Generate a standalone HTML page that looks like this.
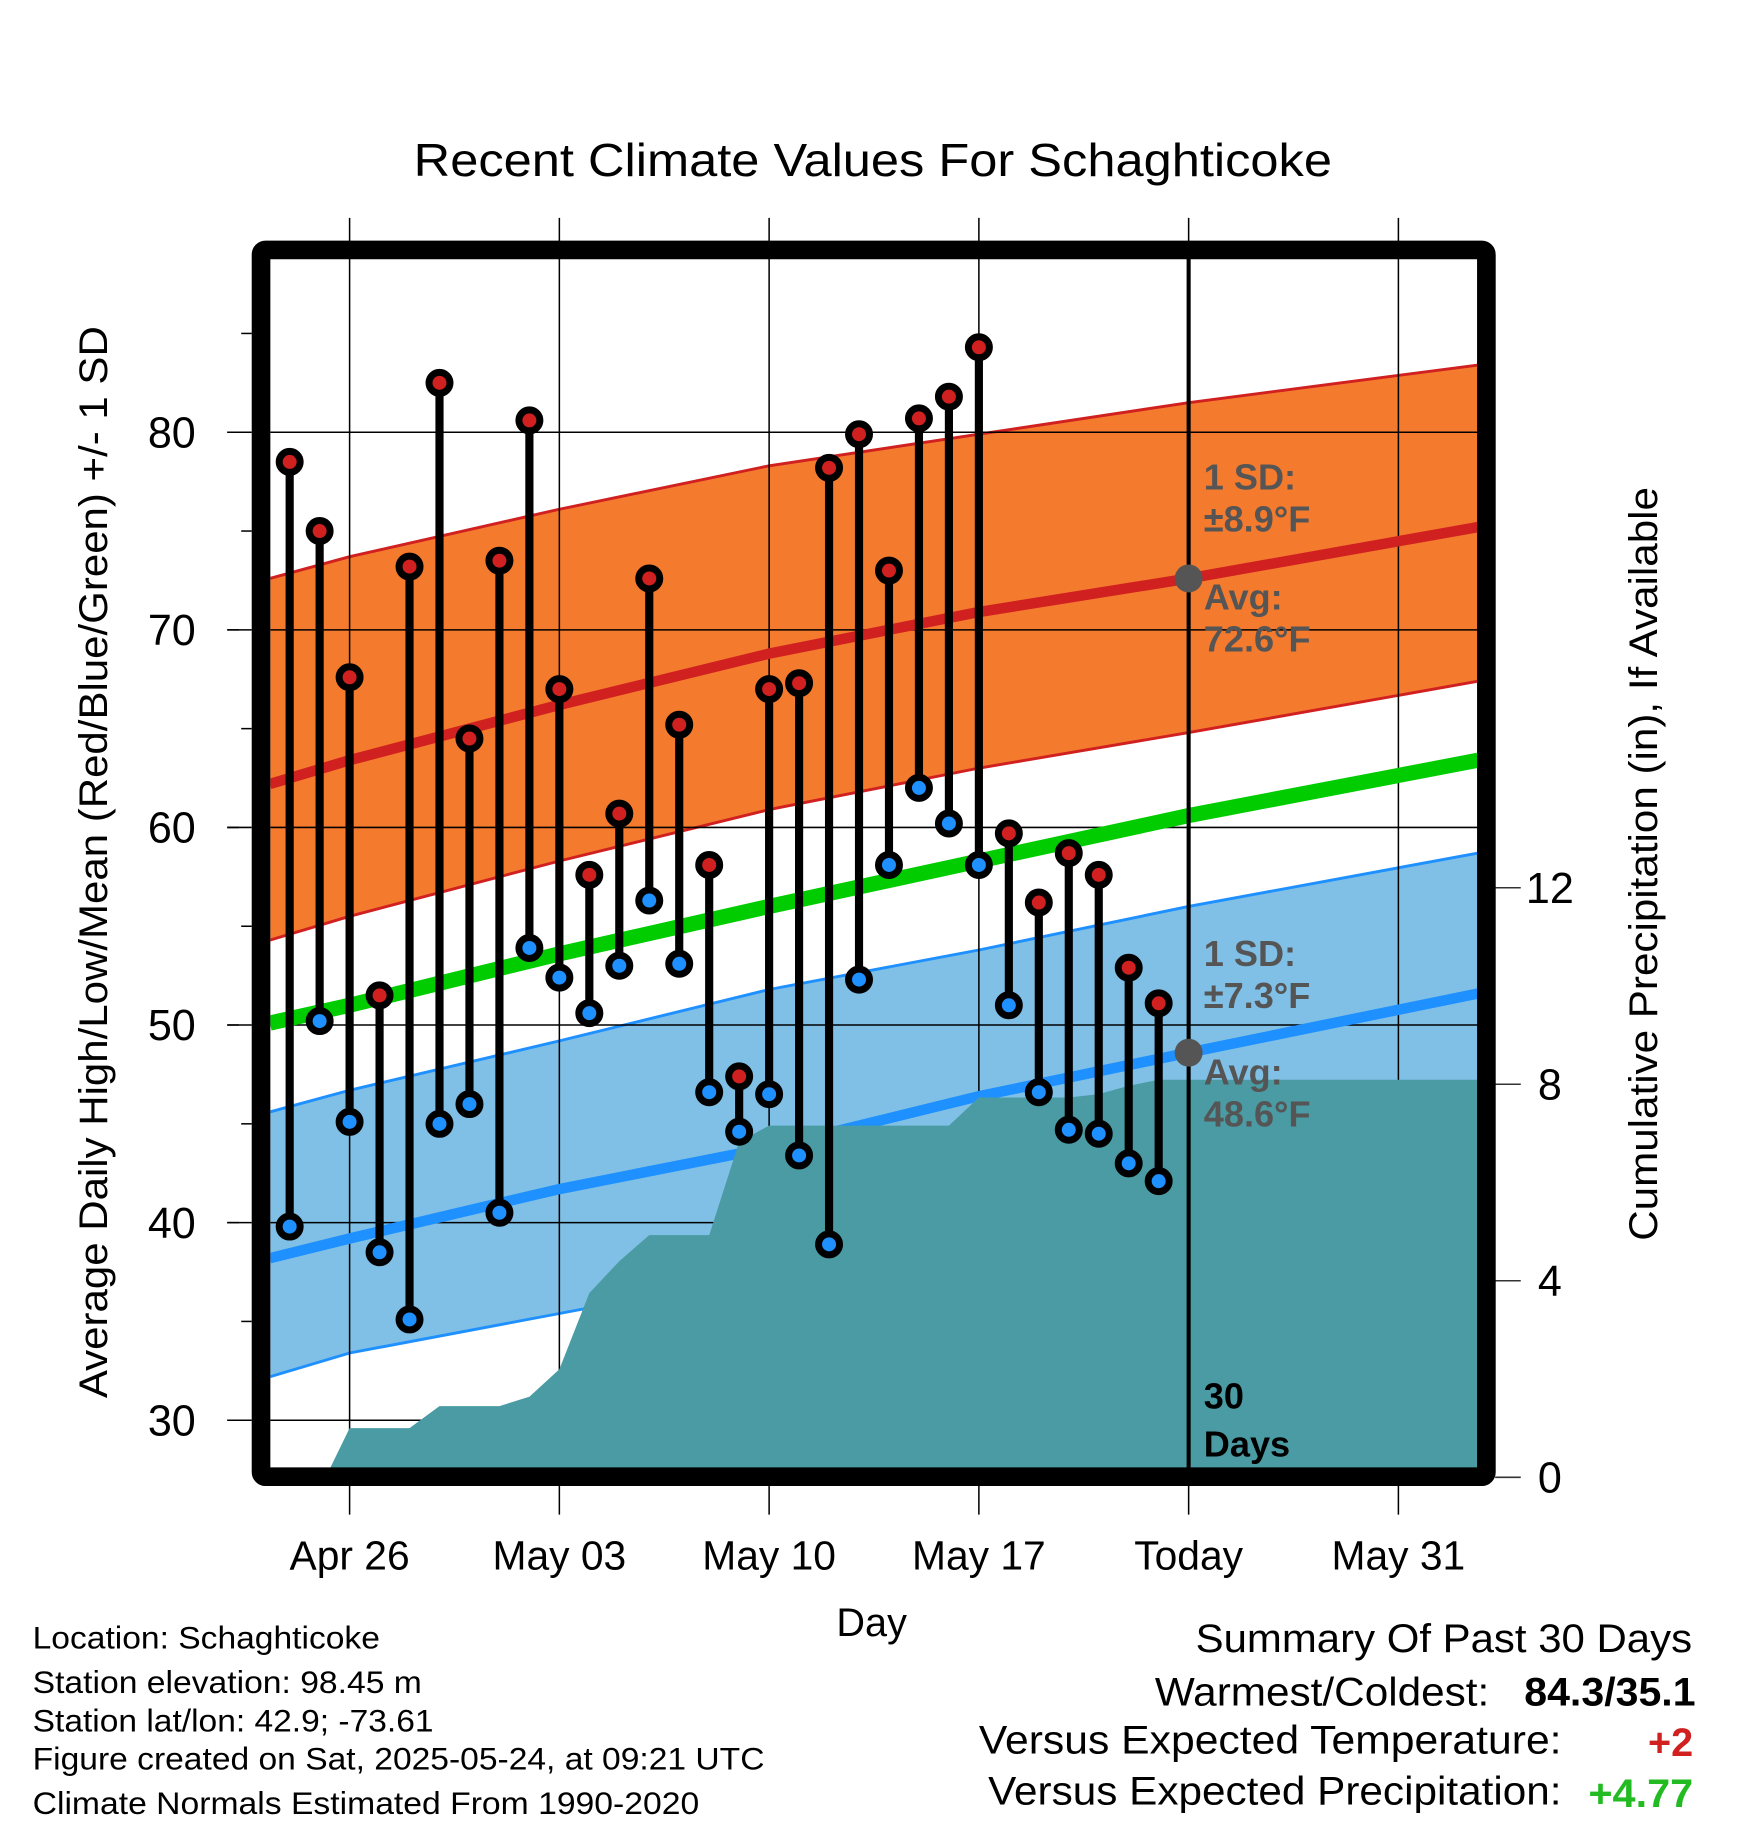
<!DOCTYPE html>
<html><head><meta charset="utf-8"><style>
html,body{margin:0;padding:0;background:#fff}
svg{display:block}
text{font-family:"Liberation Sans",Arial,sans-serif}
</style></head><body>
<svg id="chart" width="1748" height="1828" viewBox="0 0 1500 1569" preserveAspectRatio="none" xmlns="http://www.w3.org/2000/svg">
<text x="355" y="151" font-size="40" textLength="788" lengthAdjust="spacingAndGlyphs">Recent Climate Values For Schaghticoke</text>
<g id="layer"></g>
<text x="748" y="1404" font-size="34" text-anchor="middle">Day</text>
<text transform="translate(92,1200) rotate(-90)" font-size="34" textLength="920" lengthAdjust="spacingAndGlyphs">Average Daily High/Low/Mean (Red/Blue/Green) +/- 1 SD</text>
<text transform="translate(1422,1065) rotate(-90)" font-size="34" textLength="647" lengthAdjust="spacingAndGlyphs">Cumulative Precipitation (in), If Available</text>
<g font-size="27">
<text x="28" y="1415" textLength="298" lengthAdjust="spacingAndGlyphs">Location: Schaghticoke</text>
<text x="28" y="1453" textLength="334" lengthAdjust="spacingAndGlyphs">Station elevation: 98.45 m</text>
<text x="28" y="1486" textLength="344" lengthAdjust="spacingAndGlyphs">Station lat/lon: 42.9; -73.61</text>
<text x="28" y="1519" textLength="628" lengthAdjust="spacingAndGlyphs">Figure created on Sat, 2025-05-24, at 09:21 UTC</text>
<text x="28" y="1557" textLength="572" lengthAdjust="spacingAndGlyphs">Climate Normals Estimated From 1990-2020</text>
</g>
<g font-size="34">
<text x="1026" y="1418" textLength="426" lengthAdjust="spacingAndGlyphs">Summary Of Past 30 Days</text>
<text x="991" y="1464" textLength="287" lengthAdjust="spacingAndGlyphs">Warmest/Coldest:</text>
<text x="1308" y="1464" font-weight="bold" textLength="147" lengthAdjust="spacingAndGlyphs">84.3/35.1</text>
<text x="840" y="1505" textLength="500" lengthAdjust="spacingAndGlyphs">Versus Expected Temperature:</text>
<text x="1453" y="1507" text-anchor="end" font-weight="bold" fill="#d02020">+2</text>
<text x="848" y="1549" textLength="492" lengthAdjust="spacingAndGlyphs">Versus Expected Precipitation:</text>
<text x="1363" y="1551" font-weight="bold" fill="#22bb22" textLength="90" lengthAdjust="spacingAndGlyphs">+4.77</text>
</g>
</svg>
<script>
// day offsets relative to Apr 26
const normDays = [-2.66, 0, 7, 14, 21, 28, 37.66];
const hiUp  = [72.6, 73.7, 76.1, 78.3, 79.9, 81.5, 83.4];
const hiAvg = [62.2, 63.4, 66.2, 68.8, 70.9, 72.6, 75.2];
const hiLo  = [54.3, 55.5, 58.3, 60.9, 63.0, 64.8, 67.4];
const meanAvg = [50.1, 51.0, 53.6, 56.0, 58.3, 60.6, 63.4];
const loUp  = [45.6, 46.7, 49.2, 51.8, 53.8, 56.0, 58.7];
const loAvg = [38.2, 39.2, 41.7, 43.8, 46.4, 48.6, 51.6];
const loLo  = [32.2, 33.4, 35.4, 37.4, 39.5, 41.3, 44.3];
const obsDays = [-2,-1,0,1,2,3,4,5,6,7,8,9,10,11,12,13,14,15,16,17,18,19,20,21,22,23,24,25,26,27];
const highs = [78.5,75,67.6,51.5,73.2,82.5,64.5,73.5,80.6,67,57.6,60.7,72.6,65.2,58.1,47.4,67,67.3,78.2,79.9,73,80.7,81.8,84.3,59.7,56.2,58.7,57.6,52.9,51.1];
const lows  = [39.8,50.2,45.1,38.5,35.1,45,46,40.5,53.9,52.4,50.6,53,56.3,53.1,46.6,44.6,46.5,43.4,38.9,52.3,58.1,62,60.2,58.1,51,46.6,44.7,44.5,43,42.1];
const precipDays = [-0.8,0,1,2,3,4,5,6,7,8,9,10,11,12,13,14,15,16,17,18,19,20,21,22,23,24,25,26,27,37.66];
const precip = [0,1.0,1.0,1.0,1.45,1.45,1.45,1.64,2.2,3.75,4.4,4.93,4.93,4.93,6.83,7.16,7.16,7.16,7.16,7.16,7.16,7.16,7.73,7.73,7.73,7.73,7.8,7.97,8.09,8.09];
const xTickDays = [0,7,14,21,28,35];
const xTickLabels = ["Apr 26","May 03","May 10","May 17","Today","May 31"];
const yTicks = [30,40,50,60,70,80];
const yMinor = [35,45,55,65,75,85];
const y2Ticks = [0,4,8,12];

const X = d => 300 + d*180/7;
const Y = t => 371 + (80-t)*16.96;
const PY = p => 1268 - p*42.17;
const NS = "http://www.w3.org/2000/svg";
const layer = document.getElementById('layer');
function mk(tag, attrs){const e=document.createElementNS(NS,tag);for(const k in attrs)e.setAttribute(k,attrs[k]);layer.appendChild(e);return e;}
function linePts(vals){return normDays.map((d,i)=>X(d).toFixed(1)+','+Y(vals[i]).toFixed(1)).join(' ');}
function bandPts(up,lo){return linePts(up)+' '+normDays.slice().reverse().map((d,j)=>{const i=normDays.length-1-j;return X(d).toFixed(1)+','+Y(lo[i]).toFixed(1);}).join(' ');}

let e;
e=mk('polygon',{points:bandPts(hiUp,hiLo),fill:'#f47a2e'});


e=mk('polygon',{points:bandPts(loUp,loLo),fill:'#80c0e6'});


[[hiUp,'#d02020',2.5],[hiLo,'#d02020',2.5],[loUp,'#1e90ff',2.5],[loLo,'#1e90ff',2.5]].forEach(a=>{
 e=mk('polyline',{points:linePts(a[0]),fill:'none',stroke:a[1],'stroke-width':a[2]});
 
 
});
yTicks.forEach(t=>{
 e=mk('line',{x1:195,x2:1268,y1:Y(t),y2:Y(t),stroke:'#000','stroke-width':1.3});
 
 
 e=mk('text',{x:168,y:Y(t)+13,'font-size':37,'text-anchor':'end'});e.textContent=t;
 
 
});
xTickDays.forEach((d,i)=>{
 e=mk('line',{x1:X(d),x2:X(d),y1:187,y2:1300,stroke:'#000','stroke-width':1.3});
 
 
 e=mk('text',{x:X(d),y:1347,'font-size':35,'text-anchor':'middle'});e.textContent=xTickLabels[i];
 
 
});
[[hiAvg,'#d02020',9],[meanAvg,'#00cc00',13],[loAvg,'#1e90ff',9]].forEach(a=>{
 e=mk('polyline',{points:linePts(a[0]),fill:'none',stroke:a[1],'stroke-width':a[2]});
 
 
});
let pp = precipDays.map((d,i)=>X(d).toFixed(1)+','+PY(precip[i]).toFixed(1)).join(' ');
pp += ' '+X(precipDays[precipDays.length-1]).toFixed(1)+','+PY(0)+' '+X(precipDays[0]).toFixed(1)+','+PY(0);
e=mk('polygon',{points:pp,fill:'#4a9ba3'});


e=mk('rect',{x:1268,y:200,width:40,height:1090,fill:'#fff'});


e=mk('rect',{x:205,y:200,width:27,height:1090,fill:'#fff'});


yMinor.concat(yTicks).forEach(t=>{
 e=mk('line',{x1:t%10?207:195,x2:216,y1:Y(t),y2:Y(t),stroke:'#000','stroke-width':1.3});
 
 
});
y2Ticks.forEach(p=>{
 e=mk('line',{x1:1283,x2:1305,y1:PY(p),y2:PY(p),stroke:'#333','stroke-width':1.3});
 
 
 e=mk('text',{x:1330,y:PY(p)+13,'font-size':37,'text-anchor':'middle'});e.textContent=p;
 
 
});
obsDays.forEach((d,i)=>{
 e=mk('line',{x1:X(d),x2:X(d),y1:Y(highs[i]),y2:Y(lows[i]),stroke:'#000','stroke-width':7});
 
 
 e=mk('circle',{cx:X(d),cy:Y(highs[i]),r:9,fill:'#d02020',stroke:'#000','stroke-width':6});
 
 
 e=mk('circle',{cx:X(d),cy:Y(lows[i]),r:9,fill:'#1e90ff',stroke:'#000','stroke-width':6});
 
 
});
e=mk('line',{x1:X(28),x2:X(28),y1:222,y2:1262,stroke:'#000','stroke-width':3.5});


e=mk('circle',{cx:X(28),cy:Y(hiAvg[5]),r:12,fill:'#555'});


e=mk('circle',{cx:X(28),cy:Y(loAvg[5]),r:12,fill:'#555'});


e=mk('rect',{x:224,y:214.5,width:1051.5,height:1053,fill:'none',stroke:'#000','stroke-width':16,rx:4});


const ann=[["1 SD:",420,'#555'],["±8.9°F",456,'#555'],["Avg:",523,'#555'],["72.6°F",559,'#555'],["1 SD:",829,'#555'],["±7.3°F",865,'#555'],["Avg:",931,'#555'],["48.6°F",967,'#555'],["30",1209,'#000'],["Days",1250,'#000']];
ann.forEach(a=>{
 e=mk('text',{x:1033,y:a[1],'font-size':31,'font-weight':'bold',fill:a[2]});e.textContent=a[0];
 
 
});
</script>
</body></html>
